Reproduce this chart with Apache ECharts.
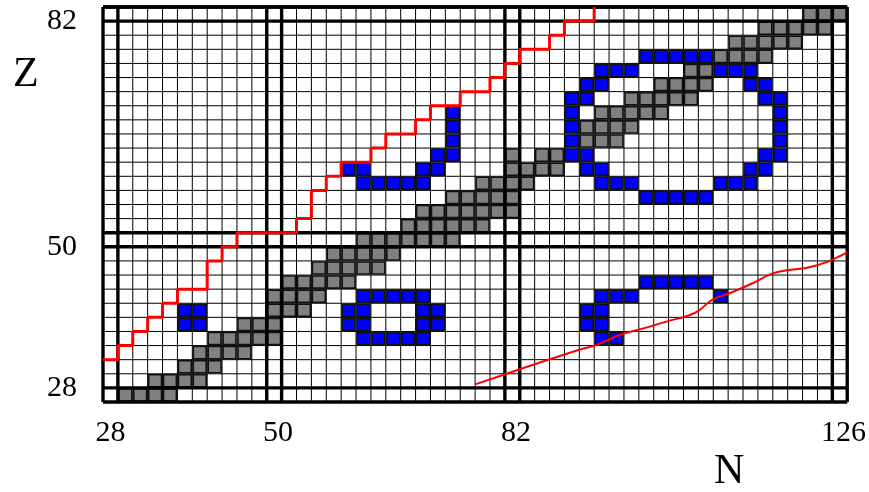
<!DOCTYPE html>
<html><head><meta charset="utf-8">
<script src="https://cdn.jsdelivr.net/npm/echarts@6/dist/echarts.min.js"></script>
<style>html,body{margin:0;padding:0;background:#fff}#c{width:869px;height:492px}</style>
</head><body><div id="c"></div><script>
// axis extents (cell edges; each cell is 2 nucleons wide, centred on even N / Z)
const nMin = 27, nMax = 127, zMin = 27, zMax = 83;
const magicN = [28, 50, 82, 126];
const magicZ = [28, 50, 82];
const xTickLabels = {'28': '28', '50.5': '50', '82.5': '82', '126.5': '126'};
const yTickLabels = {'29': '28', '49': '50', '81': '82'};

// grey cells (stable nuclei): [Z, [N...]]
const stableRows = [
  [28, [30, 32, 34, 36]],
  [30, [34, 36, 38, 40]],
  [32, [38, 40, 42]],
  [34, [40, 42, 44, 46]],
  [36, [42, 44, 46, 48, 50]],
  [38, [46, 48, 50]],
  [40, [50, 52, 54]],
  [42, [50, 52, 54, 56]],
  [44, [52, 54, 56, 58, 60]],
  [46, [56, 58, 60, 62, 64]],
  [48, [58, 60, 62, 64, 66]],
  [50, [62, 64, 66, 68, 70, 72, 74]],
  [52, [68, 70, 72, 74, 76, 78]],
  [54, [70, 72, 74, 76, 78, 80, 82]],
  [56, [74, 76, 78, 80, 82]],
  [58, [78, 80, 82, 84]],
  [60, [82, 84, 86, 88]],
  [62, [82, 86, 88]],
  [64, [92, 94, 96]],
  [66, [92, 94, 96, 98]],
  [68, [94, 96, 98, 100, 102]],
  [70, [98, 100, 102, 104, 106]],
  [72, [102, 104, 106, 108]],
  [74, [106, 108]],
  [76, [110, 112, 114, 116]],
  [78, [112, 114, 116, 118, 120]],
  [80, [116, 118, 120, 122, 124]],
  [82, [122, 124, 126]]
];

// blue cells: [Z, [N...]]
const blueRows = [
  [36, [62, 64, 66, 68, 70, 94, 96]],
  [38, [38, 40, 60, 62, 70, 72, 92, 94]],
  [40, [38, 40, 60, 62, 70, 72, 92, 94]],
  [42, [62, 64, 66, 68, 70, 94, 96, 98, 110]],
  [44, [100, 102, 104, 106, 108]],
  [56, [100, 102, 104, 106, 108]],
  [58, [62, 64, 66, 68, 70, 94, 96, 98, 110, 112, 114]],
  [60, [60, 62, 70, 72, 92, 94, 114, 116]],
  [62, [72, 74, 90, 92, 116, 118]],
  [64, [74, 90, 118]],
  [66, [74, 90, 118]],
  [68, [74, 90, 118]],
  [70, [90, 92, 116, 118]],
  [72, [92, 94, 114, 116]],
  [74, [94, 96, 98, 110, 112, 114]],
  [76, [100, 102, 104, 106, 108]]
];

// proton drip line (staircase along cell edges)
const dripN = [27,29,29,31,31,33,33,35,35,37,37,41,41,43,43,45,45,53,53,55,55,57,57,59,59,63,63,65,65,69,69,71,71,75,75,79,79,81,81,83,83,87,87,89,89,93,93];
const dripZ = [33,33,35,35,37,37,39,39,41,41,43,43,47,47,49,49,51,51,53,53,57,57,59,59,61,61,63,63,65,65,67,67,69,69,71,71,73,73,75,75,77,77,79,79,81,81,83];

// smooth red curve (lower right)
const curveN = [77.0, 84.3, 91.0, 93.3, 96.4, 99.5, 102.7, 105.8, 107.1, 108.9, 111.6, 114.2, 116.9, 119.2, 121.9, 124.4, 127];
const curveZ = [29.5, 32.1, 34.4, 35.1, 36.5, 37.4, 38.4, 39.3, 40.0, 41.5, 42.6, 43.8, 45.2, 45.7, 46.1, 46.9, 48.2];

function cellsFrom(rows) {
  const out = [];
  rows.forEach(([z, ns]) => ns.forEach(n => out.push([n, z])));
  return out;
}
const thinV = [], thinH = [];
for (let n = nMin; n <= nMax; n += 2) thinV.push([n, zMin]);
for (let z = zMin; z <= zMax; z += 2) thinH.push([nMin, z]);
const thickV = [], thickH = [];
magicN.forEach(m => { thickV.push([m - 1, zMin]); thickV.push([m + 1, zMin]); });
magicZ.forEach(m => { thickH.push([nMin, m - 1]); thickH.push([nMin, m + 1]); });
thickH.push([nMin, zMax]);

function lineSeries(vData, hData, width, z) {
  return [
    {type: 'custom', z: z, silent: true, data: vData,
     renderItem: (p, api) => {
       const a = api.coord([api.value(0), zMin]), b = api.coord([api.value(0), zMax]);
       return {type: 'line', shape: {x1: a[0], y1: a[1], x2: b[0], y2: b[1]}, style: {stroke: '#000', lineWidth: width}};
     }},
    {type: 'custom', z: z, silent: true, data: hData,
     renderItem: (p, api) => {
       const a = api.coord([nMin, api.value(1)]), b = api.coord([nMax, api.value(1)]);
       return {type: 'line', shape: {x1: a[0], y1: a[1], x2: b[0], y2: b[1]}, style: {stroke: '#000', lineWidth: width}};
     }}
  ];
}
function cellSeries(data, fill) {
  return {type: 'custom', z: 3, silent: true, data: data,
    renderItem: (p, api) => {
      const n = api.value(0), z = api.value(1);
      const a = api.coord([n - 1, z + 1]), b = api.coord([n + 1, z - 1]);
      return {type: 'rect', shape: {x: a[0] + 1, y: a[1] + 1, width: b[0] - a[0] - 2, height: b[1] - a[1] - 2},
        style: {fill: fill, stroke: '#111', lineWidth: 1.6}};
    }};
}

const font = 'Liberation Serif';
const chart = echarts.init(document.getElementById('c'), null, {renderer: 'canvas'});
chart.setOption({
  animation: false,
  backgroundColor: '#fff',
  grid: {left: 103, top: 7, width: 745, height: 395, show: false},
  xAxis: {type: 'value', min: nMin, max: nMax, interval: 0.5,
    axisLine: {show: false}, axisTick: {show: false}, splitLine: {show: false},
    axisLabel: {formatter: v => xTickLabels[String(v)] || '', fontFamily: font, fontSize: 30, color: '#000', margin: 16}},
  yAxis: {type: 'value', min: zMin, max: zMax, interval: 1,
    axisLine: {show: false}, axisTick: {show: false}, splitLine: {show: false},
    axisLabel: {formatter: v => yTickLabels[String(v)] || '', fontFamily: font, fontSize: 30, color: '#000', margin: 26, padding: [6, 0, 0, 0]}},
  graphic: [
    {type: 'text', left: 13, top: 54, style: {text: 'Z', font: '42px "Liberation Serif"', fill: '#000'}},
    {type: 'text', left: 714, top: 451, style: {text: 'N', font: '42px "Liberation Serif"', fill: '#000'}}
  ],
  series: [
    ...lineSeries(thinV, thinH, 1, 1),
    cellSeries(cellsFrom(stableRows), '#808080'),
    cellSeries(cellsFrom(blueRows), '#0000ff'),
    ...lineSeries(thickV, thickH, 3.4, 5),
    {type: 'line', z: 6, silent: true, symbol: 'none', data: dripN.map((n, i) => [n, dripZ[i]]),
      lineStyle: {color: '#ff0000', width: 3}},
    {type: 'line', z: 6, silent: true, symbol: 'none', smooth: 0.4, data: curveN.map((n, i) => [n, curveZ[i]]),
      lineStyle: {color: '#ff0000', width: 2}}
  ]
});
</script></body></html>
